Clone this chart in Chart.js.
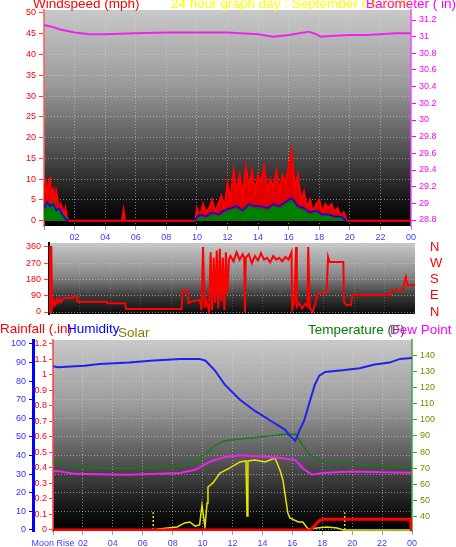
<!DOCTYPE html>
<html>
<head>
<meta charset="utf-8">
<script src="https://cdn.jsdelivr.net/npm/chart.js@4.4.0/dist/chart.umd.min.js"></script>
<style>
  body { margin: 0; background: #fff; width: 456px; height: 547px; overflow: hidden; position: relative; }
  canvas { position: absolute; left: 0; }
</style>
</head>
<body>
<canvas id="windChart" width="456" height="245" style="top:0"></canvas>
<canvas id="dirChart" width="456" height="86" style="top:238px"></canvas>
<canvas id="climChart" width="456" height="229" style="top:318px"></canvas>
<script>
// 24 hour graph day : September 04 2006

// vent en mph (rafales, moyenne, bas)
const gustHours = [0,0.1,0.2,0.3,0.4,0.5,0.6,0.7,0.8,0.9,1.0,1.1,1.2,1.3,1.4,1.5,1.6,1.7,5.1,5.2,5.3,9.9,
  10.0,10.2,10.4,10.6,10.8,11.0,11.2,11.4,11.6,11.8,12.0,12.2,12.4,12.6,12.8,13.0,13.2,13.4,13.6,13.8,
  14.0,14.2,14.4,14.6,14.8,15.0,15.2,15.4,15.6,15.8,16.0,16.2,16.4,16.6,16.8,17.0,17.2,17.4,17.6,17.8,
  18.0,18.2,18.4,18.6,18.8,19.0,19.2,19.4,19.6,19.8,24];
const windGust = [6,10,5,9,10,4,8,3,7,5,2,4,3,1,3,1,0,0,0,2.5,0,0,
  3,1,4,2,3,5,2,4,6,3,9,5,12,7,11,6,13,8,12,7,
  11,9,13,7,10,8,12,7,11,9,13,17,8,11,5,7,3,5,2,4,
  5,2,4,3,4,2,3,1,2,0,0];
const avgHours = [0,0.2,0.4,0.6,0.8,1.0,1.2,1.4,1.6,
  9.8,10.2,10.6,11.0,11.4,11.8,12.2,12.6,13.0,13.4,13.8,14.2,14.6,15.0,15.4,15.8,16.2,16.6,17.0,17.4,17.8,18.2,18.6,19.0,19.4,19.8,24];
const windAvg = [2,4,3,5,2,3,1,1,0,
  0,1,0.5,1.5,1,2,2.5,3,2,3.5,3,3,2.5,3.5,3,4,5,3,2.5,1.5,2,1,1.5,0.5,1,0,0];
const windLow = [3,4.5,3.5,4,2.5,3,1.5,0.5,0,
  0,1.5,1,2,1.5,2.5,3,3.5,2.5,4,3.5,3.5,3,4,3.5,4.5,5.5,3.5,3,2,2.5,1.5,1.5,1,1,0,0];

// baromètre (in)
const baroHours = [0,0.5,1,2,3,4,6,8,10,12,14,15,16,16.7,17.3,17.8,18.1,19,20,21,22,23,24];
const baroValues = [31.14,31.12,31.09,31.05,31.03,31.03,31.04,31.05,31.05,31.05,31.03,31.0,31.02,31.04,31.06,31.03,31.0,31.01,31.02,31.02,31.03,31.04,31.04];

// direction du vent (degrés)
const dirHours = [0,0.05,0.15,0.2,0.3,0.4,0.5,0.6,0.7,0.8,0.9,1.0,1.5,1.52,1.84,1.86,3.8,3.82,5.0,5.05,8.7,8.75,9.1,9.15,9.4,9.9,
  10.0,10.1,10.2,10.3,10.5,10.6,10.7,10.8,10.9,11.0,11.1,11.2,11.3,11.4,11.5,11.6,11.7,11.8,
  11.9,12.1,12.3,12.5,12.7,12.8,12.85,12.9,13.1,13.3,13.5,13.7,13.9,14.1,14.3,14.5,14.7,14.9,15.1,15.3,15.5,15.7,15.9,
  15.95,16.1,16.2,16.25,16.4,16.6,16.8,16.95,17.0,17.1,17.3,17.6,17.7,18.2,18.3,18.4,19.3,19.35,19.5,19.8,19.9,22.4,22.45,23.2,23.4,23.5,24];
const dirDegrees = [0,360,360,20,60,40,70,50,75,55,70,78,78,85,85,57,57,48,48,17,17,118,118,50,60,66,
  10,360,20,70,0,330,10,300,50,340,20,350,60,300,10,330,100,290,
  310,280,330,290,320,300,0,300,320,270,310,285,325,290,300,275,310,290,300,280,305,290,330,
  20,60,360,30,50,20,45,30,360,20,0,94,105,105,305,277,277,55,39,40,94,94,122,122,194,150,150];
const dirLabels = { 0: 'N', 90: 'E', 180: 'S', 270: 'W', 360: 'N' };

// humidité, température, point de rosée, solaire, pluie
const humHours = [0,0.33,2.1,3.1,5.1,6.5,8.5,9.8,10.2,10.8,11.5,12.5,13.5,14.5,15.5,15.8,16.2,16.5,16.8,17.2,17.5,17.8,18.2,19.5,20.5,21.5,22.5,23.2,24];
const humidity = [88,87.5,88.3,89.2,90,91,92,92,91,86,78,70,64,59,54,51,48,54,59,70,78,83,85,86,87,89,90,92,92.5];
const tempHours = [0,0.5,1.7,3.1,5,7,8,8.5,9.5,10.2,10.8,11.5,12.5,13.5,14.5,15.5,16.2,16.5,17,17.5,18.2,19.5,21,22.5,24];
const temperature = [73.3,73,71.3,70,70,70.5,71,71,74,79,84,87,88,89,90,91,91,87,80,76,74,73,72,71,70.5];
const dewHours = [0,0.5,1.5,3,5,7,8.5,9.5,10.5,11.5,12.5,13.5,14.5,15.5,16.2,16.7,17.3,18,20,22,24];
const dewPoint = [68.2,68,66.5,66.2,66,66.5,67,69,74,77,78,77.5,77,76,75,70,66,67,68,67.5,67.2];
const solarHours = [0,6.9,6.95,8.3,8.8,9.15,9.5,9.8,9.96,10.16,10.3,10.36,10.7,11.16,11.8,12.5,12.9,12.97,13.03,13.5,
  14.17,14.84,15.17,15.37,15.7,15.84,16.4,16.7,17.05,17.65,18.3,19,19.4,24];
const solar = [0,0,5,16,38,43,21,27,134,16,145,231,253,306,333,366,371,75,371,376,
  366,387,323,269,91,65,43,43,5,11,16,11,0,0];
const rainHours = [0,17.2,17.5,17.8,18.1,23.9,23.95,24];
const rainfall = [0,0,0.03,0.06,0.069,0.069,0,0];
const sunMarkHours = [6.7, 19.5];
const sunMarkHeight = 95;

const FONT = '"Liberation Sans", Arial, sans-serif';
const GRID = 'rgba(215,215,215,0.55)';

function pts(xs, ys) { return xs.map((x, i) => ({ x: x, y: ys[i] })); }
function hourLabel(v) { return v === 24 ? '00' : String(v).padStart(2, '0'); }
// taille fixe des axes, sans marge ajoutée pour les libellés
function fixW(w) { return scale => { scale.width = w; scale.paddingTop = 0; scale.paddingBottom = 0; }; }
function fixH(h) { return scale => { scale.height = h; scale.paddingLeft = 0; scale.paddingRight = 0; }; }
// ne pas tracer les segments à zéro (la ligne rouge reste visible)
const hideZero = { borderColor: c => (c.p0.parsed.y === 0 && c.p1.parsed.y === 0) ? 'rgba(0,0,0,0)' : undefined };

// fond dégradé de la zone de tracé
const plotBackground = {
  id: 'plotBackground',
  beforeDraw(chart, args, opts) {
    const { ctx, chartArea: a } = chart;
    const g = ctx.createLinearGradient(0, a.top, 0, a.bottom);
    opts.stops.forEach(s => g.addColorStop(s[0], s[1]));
    ctx.save();
    ctx.fillStyle = g;
    ctx.fillRect(a.left, a.top, a.right - a.left, a.bottom - a.top);
    ctx.restore();
  }
};

// titres en haut des panneaux
const panelTitles = {
  id: 'panelTitles',
  afterDraw(chart, args, opts) {
    const ctx = chart.ctx;
    ctx.save();
    ctx.font = '13.5px ' + FONT;
    ctx.textBaseline = 'alphabetic';
    opts.items.forEach(t => {
      ctx.fillStyle = t.color;
      ctx.fillText(t.text, t.x, t.y);
    });
    ctx.restore();
  }
};

Chart.defaults.font.family = FONT;
Chart.defaults.font.size = 9;
Chart.defaults.animation = false;
Chart.defaults.plugins.legend.display = false;
Chart.defaults.plugins.tooltip.enabled = false;
Chart.defaults.elements.point.radius = 0;
Chart.defaults.elements.line.tension = 0;

const bgStops = [[0, '#c8c8c8'], [0.35, '#9a9a9a'], [0.65, '#505050'], [0.9, '#101010'], [1, '#000']];

// ---- Panneau 1 : vent + baromètre ----
new Chart(document.getElementById('windChart'), {
  type: 'line',
  data: {
    datasets: [
      { data: pts(gustHours, windGust), borderColor: '#ff0000', backgroundColor: '#e00000', borderWidth: 2, fill: 'origin', yAxisID: 'yWind', order: 4 },
      { data: pts(avgHours, windAvg), borderColor: '#007000', backgroundColor: '#008000', borderWidth: 1, fill: 'origin', yAxisID: 'yWind', order: 3, segment: hideZero },
      { data: pts(avgHours, windLow), borderColor: '#0000ff', borderWidth: 1.5, fill: false, yAxisID: 'yWind', order: 2, segment: hideZero },
      { data: pts(baroHours, baroValues), borderColor: '#ee22ee', borderWidth: 2, fill: false, yAxisID: 'yBaro', order: 1 }
    ]
  },
  options: {
    responsive: false,
    devicePixelRatio: 1,
    layout: { padding: { top: 10, left: 0, right: 0, bottom: 0 } },
    scales: {
      x: {
        type: 'linear', min: 0, max: 24,
        ticks: { stepSize: 2, color: '#4040ff', padding: 2, maxRotation: 0, autoSkip: false,
          callback: v => v === 0 ? '' : hourLabel(v) },
        grid: { color: GRID, tickColor: '#a0a0a0', tickLength: 4 },
        border: { display: false, dash: [1, 2] },
        afterFit: fixH(19)
      },
      yWind: {
        position: 'left', min: -1.28, max: 50.7,
        ticks: { stepSize: 5, color: '#ff0000', includeBounds: false, autoSkip: false },
        grid: { color: GRID, tickColor: '#ff4040', tickLength: 5 },
        border: { display: true, color: 'rgba(255,80,80,0.7)', width: 2, dash: [1, 2] },
        afterFit: fixW(44)
      },
      yBaro: {
        position: 'right', min: 28.728, max: 31.32,
        ticks: { stepSize: 0.2, color: '#ff00ff', includeBounds: false, autoSkip: false, callback: v => String(+v.toFixed(1)) },
        grid: { drawOnChartArea: false, tickColor: '#ff00ff', tickLength: 5 },
        border: { display: true, color: 'rgba(255,60,255,0.7)', width: 2 },
        afterFit: fixW(45)
      }
    },
    plugins: {
      plotBackground: { stops: bgStops },
      panelTitles: { items: [
        { text: 'Windspeed (mph)', x: 33, y: 8, color: '#ff0000' },
        { text: '24 hour graph day : September 04 2006', x: 171, y: 8, color: '#ffff00' },
        { text: 'Barometer ( in)', x: 366, y: 8, color: '#ff00ff' }
      ] }
    }
  },
  plugins: [plotBackground, panelTitles]
});

// ---- Panneau 2 : direction du vent ----
new Chart(document.getElementById('dirChart'), {
  type: 'line',
  data: {
    datasets: [
      { data: pts(dirHours, dirDegrees), borderColor: '#ff0000', borderWidth: 2, fill: false, yAxisID: 'yDir' }
    ]
  },
  options: {
    responsive: false,
    devicePixelRatio: 1,
    layout: { padding: { top: 5, left: 0, right: 0, bottom: 0 } },
    scales: {
      x: {
        type: 'linear', min: 0, max: 24,
        ticks: { stepSize: 2, display: false },
        grid: { color: 'rgba(215,215,215,0.25)', drawTicks: false },
        border: { display: false, dash: [1, 2] },
        afterFit: fixH(10)
      },
      yDir: {
        position: 'left', min: -11, max: 382,
        ticks: { stepSize: 90, color: '#ff0000', includeBounds: false, autoSkip: false },
        grid: { color: GRID, tickColor: '#ff4040', tickLength: 5 },
        border: { display: true, color: '#000', width: 2, dash: [1, 2] },
        afterFit: fixW(49)
      },
      yCompass: {
        position: 'right', min: -11, max: 382,
        ticks: { stepSize: 90, color: '#ff0000', includeBounds: false, autoSkip: false, padding: 15,
          font: { size: 13 }, callback: v => dirLabels[v] || '' },
        grid: { drawOnChartArea: false, drawTicks: false },
        border: { display: false },
        afterFit: fixW(41)
      }
    },
    plugins: {
      plotBackground: { stops: [[0, '#c8c8c8'], [0.45, '#8a8a8a'], [0.75, '#3a3a3a'], [1, '#0a0a0a']] }
    }
  },
  plugins: [plotBackground]
});

// ---- Panneau 3 : pluie, humidité, solaire, température, point de rosée ----
new Chart(document.getElementById('climChart'), {
  type: 'line',
  data: {
    datasets: [
      { data: pts(sunMarkHours.slice(0, 1).concat(sunMarkHours.slice(0, 1)), [0, sunMarkHeight]), borderColor: '#e8e800', borderWidth: 1.5, borderDash: [2, 2], yAxisID: 'ySolar', order: 7 },
      { data: pts(sunMarkHours.slice(1).concat(sunMarkHours.slice(1)), [0, sunMarkHeight]), borderColor: '#e8e800', borderWidth: 1.5, borderDash: [2, 2], yAxisID: 'ySolar', order: 7 },
      { data: pts(solarHours, solar), borderColor: '#e6e600', borderWidth: 1.5, yAxisID: 'ySolar', order: 5 },
      { data: pts(dewHours, dewPoint), borderColor: '#ee22ee', borderWidth: 2, yAxisID: 'yTemp', order: 4 },
      { data: pts(tempHours, temperature), borderColor: '#1a7a1a', borderWidth: 1.5, yAxisID: 'yTemp', order: 3 },
      { data: pts(humHours, humidity), borderColor: '#2020ee', borderWidth: 2, yAxisID: 'yHum', order: 2 },
      { data: pts(rainHours, rainfall), borderColor: '#ff0000', borderWidth: 3, yAxisID: 'yRain', order: 1 }
    ]
  },
  options: {
    responsive: false,
    devicePixelRatio: 1,
    layout: { padding: { top: 22, left: 0, right: 0, bottom: 0 } },
    scales: {
      x: {
        type: 'linear', min: 0, max: 24,
        ticks: { stepSize: 2, color: '#4040ff', padding: 3, maxRotation: 0, autoSkip: false,
          callback: v => v === 0 ? 'Moon Rise' : hourLabel(v) },
        grid: { color: GRID, tickColor: '#a0a0a0', tickLength: 4 },
        border: { display: false, dash: [1, 2] },
        afterFit: fixH(16)
      },
      yHum: {
        position: 'left', weight: 10, min: -0.54, max: 102.15,
        ticks: { stepSize: 10, color: '#3030ff', includeBounds: false, autoSkip: false },
        grid: { color: GRID, tickColor: '#0000ff', tickLength: 4 },
        border: { display: true, color: '#0000ff', width: 3, dash: [1, 2] },
        afterFit: fixW(33)
      },
      yRain: {
        position: 'left', weight: 1, min: -0.0065, max: 1.2258,
        ticks: { stepSize: 0.1, color: '#ff0000', includeBounds: false, autoSkip: false, padding: 2, callback: v => String(+v.toFixed(1)) },
        grid: { drawOnChartArea: false, tickColor: '#ff4040', tickLength: 4 },
        border: { display: true, color: 'rgba(255,60,60,0.75)', width: 2 },
        afterFit: fixW(20)
      },
      yTemp: {
        position: 'right', min: 31.16, max: 149.3,
        ticks: { stepSize: 10, color: '#7a8a00', includeBounds: false, autoSkip: false },
        grid: { drawOnChartArea: false, tickColor: '#40a040', tickLength: 5 },
        border: { display: true, color: 'rgba(60,170,60,0.75)', width: 2 },
        afterFit: fixW(44)
      },
      ySolar: { display: false, min: -5.4, max: 1021.5 }
    },
    plugins: {
      plotBackground: { stops: bgStops },
      panelTitles: { items: [
        { text: 'Rainfall (.in)', x: 0, y: 15, color: '#ff0000' },
        { text: 'Humidity', x: 67, y: 15, color: '#0000ff' },
        { text: 'Solar', x: 118, y: 19, color: '#808000' },
        { text: 'Temperature (F)', x: 308, y: 16, color: '#008000' },
        { text: 'Dew Point (F)', x: 390, y: 16, color: '#ff00ff' }
      ] }
    }
  },
  plugins: [plotBackground, panelTitles]
});
</script>
</body>
</html>
